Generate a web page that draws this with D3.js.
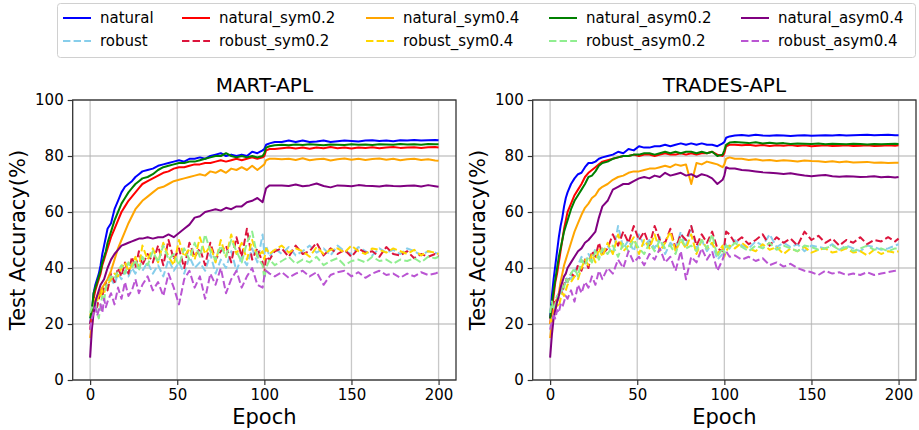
<!DOCTYPE html>
<html>
<head>
<meta charset="utf-8">
<script src="https://cdn.jsdelivr.net/npm/d3@7"></script>
<style>
body { margin: 0; background: #fff; }
text { font-family: "DejaVu Sans", sans-serif; fill: #000; }
</style>
</head>
<body>
<script>
var epochs = [0,1,2,3,4,5,6,7,8,9,10,
  12,14,16,18,20,22,24,26,28,30,
  33,36,39,42,45,48,51,54,57,60,63,66,69,72,75,78,81,84,87,90,93,96,99,
  100,101,103,106,
  110,114,118,122,126,130,134,138,142,146,150,154,158,162,166,170,174,178,182,186,190,194,198,
  200];

var seriesNames = ['natural','robust','natural_sym0.2','robust_sym0.2','natural_sym0.4','robust_sym0.4',
  'natural_asym0.2','robust_asym0.2','natural_asym0.4','robust_asym0.4'];
var seriesColors = ['blue','skyblue','red','crimson','orange','gold','green','lightgreen','purple','mediumorchid'];
var xTicks = [0,50,100,150,200];
var yTicks = [0,20,40,60,80,100];
var panelTitles = ['MART-APL','TRADES-APL'];

// ---- MART-APL ----
var mart_natural = [20,24,31,34,36,38,41,45,48,51,54,
  56,61,64,67,69,70,71,72.5,73.5,74.5,
  75,75.5,76.5,77,77.5,78,78.5,78,79,79,79.5,79,80,80.5,81,80,80.5,80,80.5,80,81.5,81,82,
  82.5,84,84.5,85,
  85,85.5,85,85.5,85,85.2,85.5,85,85.3,85.5,85.4,85.2,85.5,85.6,85.4,85.5,85.3,85.6,85.5,85.7,85.5,85.6,85.7,
  85.6];
var mart_robust = [22,24,28,27,29,31,30,33,32,34,33,
  36,34,38,36,39,37,40,38,41,39,
  42,38,41,37,43,39,42,38,44,40,42,39,45,38,43,40,46,39,44,41,47,42,52,
  45,48,44,47,
  45,47.5,44.5,46,48,45.5,47,44.5,48,46,45,47.5,46,44.5,47,45.5,46.5,45,47,46,44.5,46,45.5,
  45];
var mart_natural_sym02 = [18,22,29,32,34,36,38,41,43,45,47,
  51,54,57,60,62,64,65.5,67,68.5,70,
  71,72,73,74,74.5,75.5,76,76,76.5,77,77,77.5,77.5,78,78.5,78,78.5,79,78.5,79,79.5,79,79.5,
  80,82,82.5,82.5,
  82.8,83,82.7,83,82.6,83,82.8,83.2,82.8,83,82.7,83,82.9,83.1,82.8,83,83.2,82.9,83,83.1,82.9,83.1,83.2,
  83];
var mart_robust_sym02 = [20,23,25,27,26,29,31,30,33,35,32,
  38,35,40,37,42,38,44,40,46,41,
  45,42,48,41,50,43,47,40,49,44,47,41,49,43,46,48,42,51,44,54,43,47,42,
  38,44,43,46,
  47,44,48,45,46,49,44.5,47,45,46.5,44,47,45.5,46,44,47.5,45,44.5,46,43.5,45,44,45,
  44];
var mart_natural_sym04 = [15,19,25,28,30,31,32,33,34,35,36,
  39,43,47,50,53,56,58.5,61,62.5,64,
  65.5,67,68.5,69,70,71,71.5,72,72.5,73,73.5,73,74.5,74,75,74,75.5,75,76,75,76.5,75,76.5,
  77,78.5,79,79,
  78.8,79,78.6,79.2,78.5,78.8,79,78.4,78.8,79.1,78.7,79,78.6,78.9,79.1,78.7,79,78.5,78.8,79,78.6,78.8,78.4,
  78.3];
var mart_robust_sym04 = [23,25,27,29,28,31,30,32,31,33,34,
  36,38,37,40,42,39,41,44,40,48,
  43,47,42,49,44,41,50,44,47,43,51,45,48,42,50,44,52,45,49,43,50,44,46,
  43,47,45,46.5,
  48,45.5,47,46,44,47.5,45,46.5,47,45.5,48,46,45,47,46.5,45.5,47,46,45,46.5,44.5,46,45.5,
  45];
var mart_natural_asym02 = [22,25,31,33,35,37,39,42,44,46,49,
  53,57,60,63,65,67,68.5,70,71,72,
  72.5,73.5,75,76,76.5,77,77.5,77.5,78,78,78.5,79,79.5,80,80,81,80,79.5,80,79.5,80,79.5,80,
  81,83,83.5,83.8,
  84,83.8,84.1,83.9,84.2,84,83.8,84.1,84,83.9,84.2,84,84.1,83.9,84.2,84.1,84,84.3,84.1,84.2,84,84.3,84.2,
  84.2];
var mart_robust_asym02 = [24,26,25,28,24,22,27,30,28,33,35,
  37,36,39,41,38,42,40,43,39,44,
  41,46,42,48,43,45,41,47,43,49,44,52,46,43,48,44,50,46,42,49,53,44,41,
  36,40,43,41,
  42.5,44,41.5,43,42,44,41,42.5,43.5,41,42.5,43,42,44,42.5,43,41.5,43,42.5,43.5,42,44,43.5,
  44];
var mart_natural_asym04 = [8,18,24,28,30,32,34,35,36,38,40,
  43,45,46.5,48,48.5,49,49.5,50,50.5,50.5,
  51,50.5,51,51,52,51,52.5,54,55.5,58,58.5,60,60.5,61,60.5,61.5,61,62,62,63.5,64,65,63.5,
  66,68.5,69.5,69.5,
  69.5,69.3,69.8,69.2,69.5,70.2,69.3,68.8,69.5,69.4,69.2,69.6,69.4,69.3,69.1,69.5,69.3,69.2,69.4,69.5,69.1,69.6,69.2,
  69];
var mart_robust_asym04 = [18,22,24,26,23,25,27,24,29,26,28,
  31,27,33,29,35,30,32,36,31,34,
  37,32,35,30,38,33,27,36,39,33,37,29,38,34,40,31,36,39,33,37,40,34,33,
  37,39,38,37,
  38.5,36.5,38,39,37,38.5,34,37.5,38.5,39,37,38.5,36.5,38,39,37.5,38,36.5,38,37,38.5,37.5,38,
  38.5];

// ---- TRADES-APL ----
var trades_natural = [22,30,36,41,46,51,55,58,62,65,67,
  70,72,73.5,74,76,77.5,77.5,78,79,79.5,
  80,80.5,81.5,81,82.5,82,83.5,83,83,83.5,83.5,84,83.5,84,84.5,84,84.5,84,84.5,84,84,83.5,84.5,
  85,86.5,87,87.3,
  87.5,87.2,87.6,87.3,87.2,87.4,87.3,87.1,87.3,87.4,87.2,87.3,87.4,87.3,87.5,87.3,87.4,87.5,87.6,87.4,87.5,87.6,87.4,
  87.4];
var trades_robust = [24,26,25,28,30,31,33,32,34,35,37,
  36,39,41,44,42,45,43,47,44,46,
  48,45,55,47,50,46,52,48,50,47,51,45,49,47,53,48,55,47,50,46,49,43,45,
  47,49,47,50,
  48,47,49.5,48,52,47.5,49,47.5,48.5,46,48,47.5,47,48.5,46.5,48,47,46,48,47.5,46.5,47,48,
  48.5];
var trades_natural_sym02 = [20,25,30,35,38,42,46,50,54,57,60,
  63,66,68,70,72.5,74,75,76,77,78,
  78.5,79,79.5,80,80,80.5,80,80.5,80.5,80,80.5,81,80.5,80.5,81,80.5,81,80.5,81,81,81.5,80.5,80,
  81,83.5,84,84,
  83.8,84,83.7,83.9,83.6,83.8,83.7,83.9,83.6,83.8,83.5,83.7,83.8,83.6,83.7,83.8,83.6,83.7,83.8,83.6,83.7,83.8,83.7,
  83.8];
var trades_robust_sym02 = [22,25,27,29,28,30,32,31,34,36,35,
  38,37,41,39,43,40,46,44,49,45,
  47,52,48,53,49,55,50,53,48,55,50,49,54,47,52,50,55,48,52,49,53,47,46,
  48,53,52,49,
  51,48.5,50,52,48,51,49,50.5,48,53,50,51.5,49,50.5,48,50,49,51,48.5,50,49.5,51,49.5,
  50.5];
var trades_natural_sym04 = [15,20,24,27,29,31,35,38,41,43,45,
  49,53,56,59,61.5,63,65,66,68,69,
  70,71.5,72.5,73,74,74.5,74.5,75,75.5,75.5,76,76.5,76,77,76.5,77,70,77.5,77,78,77.5,77,76,
  77,79,79.5,79,
  79,78.6,78.8,78.4,78.6,78.2,78.5,78.3,78,78.4,78.2,78.1,77.9,78.1,77.8,78,77.7,77.8,77.9,77.6,77.7,77.5,77.6,
  77.6];
var trades_robust_sym04 = [20,23,22,25,27,26,29,31,30,32,34,
  35,37,36,40,43,41,45,42,47,44,
  49,45,52,46,48,51,45,50,47,52,46,49,53,46,50,47,52,45,50,47,49,45,48,
  44,46,48,47,
  49,47,46,48.5,46.5,47.5,45,47,46,47.5,45.5,46.5,47,45.5,46,47,45.5,46,44.5,46.5,45,46,45.5,
  46];
var trades_natural_asym02 = [22,27,32,36,40,44,47,50,53,55,57,
  61,64,66,68,70,72.5,73,74.5,76.5,77.5,
  78,79,79.5,80,80,80.5,80.5,81,81,80.5,81,81.5,81,81.5,81,81.5,81.5,81,81.5,81,81.5,80,80.5,
  82,84,84.8,85,
  84.8,84.6,84.9,84.5,84.7,84.5,84.6,84.3,84.5,84.4,84.3,84.5,84.2,84.4,84.3,84.2,84.4,84.3,84.1,84.3,84.2,84.3,84.4,
  84.3];
var trades_robust_asym02 = [24,28,25,27,30,29,31,34,33,36,35,
  38,40,37,43,41,44,42,46,43,47,
  45,48,44,49,46,50,47,45,49,46,50,47,48,45,51,47,48,46,50,47,52,44,47,
  45,48,47,49,
  47.5,46,48,47,49,46.5,48,47,46,48,47.5,46.5,47,48,46.5,47.5,46,47,48,46.5,47,46,47,
  47];
var trades_natural_asym04 = [8,16,22,25,28,30,33,35,37,38,40,
  42,44,46,47,49,50,51.5,53,58,62,
  64,68,69,70,70,71,72,72.5,72,73,72.5,74,73,73.5,74,73,73.5,72.5,73.5,73,72,70,71.5,
  73,76,75.5,75.5,
  75,74.8,74.5,74.2,74,73.8,73.6,73.8,73.4,73,72.8,73,73.2,72.8,72.6,72.8,72.7,72.5,72.6,72.8,72.4,72.6,72.3,
  72.5];
var trades_robust_asym04 = [18,21,23,22,25,24,27,26,28,30,29,
  32,28,34,31,35,33,37,34,39,36,
  40,38,43,40,46,42,44,41,45,43,47,42,44,39,46,36,44,42,47,43,46,39,43,
  45,46,44,44.5,
  43,44,42.5,43.5,41,42,40.5,41.5,40,39,38.5,37.5,39,38,38.5,37.5,38,37.5,38.5,37.5,38,38.5,39,
  39.5];

var panelSeries = [
  [mart_natural, mart_robust, mart_natural_sym02, mart_robust_sym02, mart_natural_sym04, mart_robust_sym04,
   mart_natural_asym02, mart_robust_asym02, mart_natural_asym04, mart_robust_asym04],
  [trades_natural, trades_robust, trades_natural_sym02, trades_robust_sym02, trades_natural_sym04, trades_robust_sym04,
   trades_natural_asym02, trades_robust_asym02, trades_natural_asym04, trades_robust_asym04]
];

var W = 919, H = 430;
var svg = d3.select('body').append('svg').attr('width', W).attr('height', H);

var panelLeft = [72.7, 532.7];
var panelW = 383.3;
var plotTop = 100, plotBottom = 380;
var y = d3.scaleLinear().domain([0, 100]).range([plotBottom, plotTop]);

panelTitles.forEach(function(title, p){
  var x = d3.scaleLinear().domain([-10, 210]).range([panelLeft[p], panelLeft[p] + panelW]);
  var g = svg.append('g');

  // grid
  g.selectAll('.gx').data(xTicks).enter().append('line')
    .attr('x1', function(d){ return x(d); }).attr('x2', function(d){ return x(d); })
    .attr('y1', plotTop).attr('y2', plotBottom)
    .attr('stroke', '#b0b0b0').attr('stroke-opacity', 0.7).attr('stroke-width', 1.3);
  g.selectAll('.gy').data(yTicks).enter().append('line')
    .attr('y1', function(d){ return y(d); }).attr('y2', function(d){ return y(d); })
    .attr('x1', panelLeft[p]).attr('x2', panelLeft[p] + panelW)
    .attr('stroke', '#b0b0b0').attr('stroke-opacity', 0.7).attr('stroke-width', 1.3);

  var line = d3.line()
    .x(function(d){ return x(d[0]); })
    .y(function(d){ return y(d[1]); });

  panelSeries[p].forEach(function(vals, i){
    var pts = epochs.map(function(e, k){ return [e, vals[k]]; })
      .filter(function(d){ return d[1] != null; });
    g.append('path').datum(pts)
      .attr('d', line)
      .attr('fill', 'none')
      .attr('stroke', seriesColors[i])
      .attr('stroke-width', 2)
      .attr('stroke-linejoin', 'round')
      .attr('stroke-dasharray', i % 2 == 1 ? '7.4,3.2' : null);
  });

  // axes
  var xAxis = d3.axisBottom(x).tickValues(xTicks).tickSize(5).tickPadding(4);
  var yAxis = d3.axisLeft(y).tickValues(yTicks).tickSize(5).tickPadding(4);
  var gx = g.append('g').attr('transform', 'translate(0,' + plotBottom + ')').call(xAxis);
  var gy = g.append('g').attr('transform', 'translate(' + panelLeft[p] + ',0)').call(yAxis);
  [gx, gy].forEach(function(a){
    a.select('.domain').remove();
    a.selectAll('line').attr('stroke', '#333').attr('stroke-width', 1.2);
    a.selectAll('text').style('font-size', '15px').attr('fill', '#000');
  });

  // frame
  g.append('rect')
    .attr('x', panelLeft[p]).attr('y', plotTop)
    .attr('width', panelW).attr('height', plotBottom - plotTop)
    .attr('fill', 'none').attr('stroke', '#333').attr('stroke-width', 1.3);

  g.append('text')
    .attr('x', panelLeft[p] + panelW / 2).attr('y', 92)
    .attr('text-anchor', 'middle').style('font-size', '20px')
    .text(title);
  g.append('text')
    .attr('x', panelLeft[p] + panelW / 2).attr('y', 424)
    .attr('text-anchor', 'middle').style('font-size', '21px')
    .text('Epoch');
  g.append('text')
    .attr('transform', 'translate(' + (panelLeft[p] - 48) + ',' + ((plotTop + plotBottom) / 2) + ') rotate(-90)')
    .attr('text-anchor', 'middle').style('font-size', '21px')
    .text('Test Accuracy(%)');
});

// legend
var leg = svg.append('g');
leg.append('rect')
  .attr('x', 57.5).attr('y', 3.5).attr('width', 858).attr('height', 54)
  .attr('rx', 3).attr('fill', '#fff').attr('stroke', '#d0d0d0').attr('stroke-width', 1);
var colX = [63, 182, 366, 549, 741];
seriesNames.forEach(function(name, i){
  var c = Math.floor(i / 2), r = i % 2;
  var ly = 18 + r * 23;
  leg.append('line')
    .attr('x1', colX[c]).attr('x2', colX[c] + 28)
    .attr('y1', ly).attr('y2', ly)
    .attr('stroke', seriesColors[i]).attr('stroke-width', 2)
    .attr('stroke-dasharray', r == 1 ? '7.4,3.2' : null);
  leg.append('text')
    .attr('x', colX[c] + 37).attr('y', ly + 5)
    .style('font-size', '15px')
    .text(name);
});
</script>
</body>
</html>
